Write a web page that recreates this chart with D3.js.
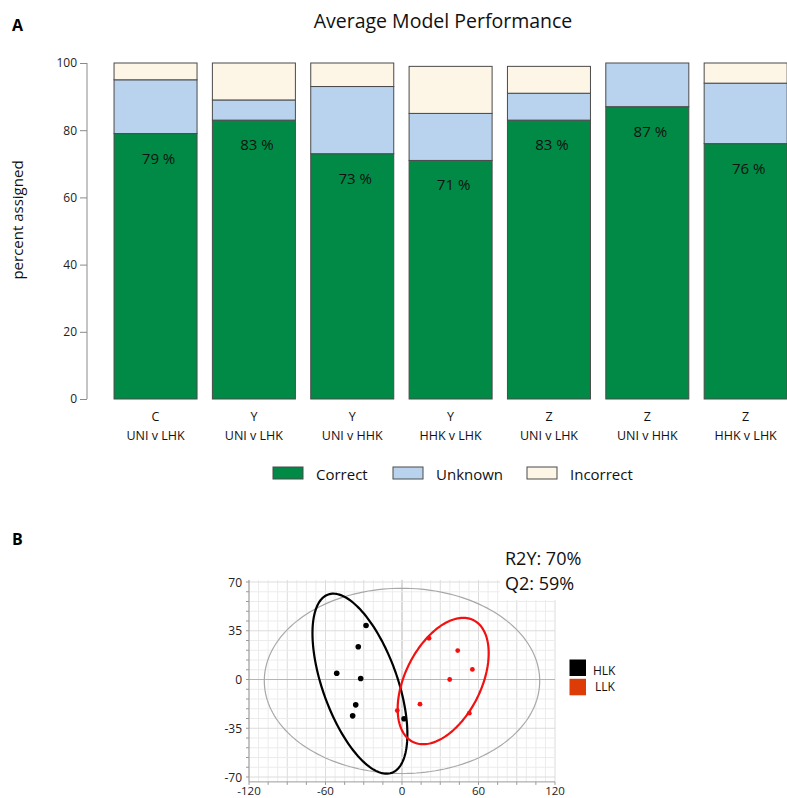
<!DOCTYPE html>
<html>
<head>
<meta charset="utf-8">
<script src="https://cdn.jsdelivr.net/npm/d3@7"></script>
<style>
  body { margin: 0; background: #fff; }
  svg { font-family: "Open Sans", sans-serif; }
</style>
</head>
<body>
<svg id="fig" width="787" height="798"></svg>
<script>
// ---- panel A data ----
const groups = ["C", "Y", "Y", "Y", "Z", "Z", "Z"];
const comparisons = ["UNI v LHK", "UNI v LHK", "UNI v HHK", "HHK v LHK", "UNI v LHK", "UNI v HHK", "HHK v LHK"];
const correct = [79, 83, 73, 71, 83, 87, 76];
const unknown = [16, 6, 20, 14, 8, 13, 18];
const incorrect = [5, 11, 7, 14, 8, 0, 6];
const yTicksA = [0, 20, 40, 60, 80, 100];
const legendNames = ["Correct", "Unknown", "Incorrect"];

// ---- panel B data ----
const hlkX = [-28.2, -34.3, -51.2, -32.4, -36.3, -38.7, 1.6];
const hlkY = [38.8, 23.5, 4.5, 0.7, -18.2, -26.1, -28.2];
const llkX = [21.2, 43.7, 55.2, 37.4, 14.1, -3.7, 52.8];
const llkY = [29.6, 20.8, 7.2, 0, -17.7, -22.3, -24.2];
// ellipses: center x, center y, semi-axis a, semi-axis b, angle (deg)
const hotelling = [0, -1, 108, 66.5, 0];
const hlkEllipse = [-33, -3, 68.7, 29, 112];
const llkEllipse = [32.3, -1.1, 49.8, 29.2, 59.4];
const xTicksB = [-120, -60, 0, 60, 120];
const yTicksB = [-70, -35, 0, 35, 70];
const stats = ["R2Y: 70%", "Q2: 59%"];
const groupNames = ["HLK", "LLK"];

const svg = d3.select("#fig");
const colors = ["#008a45", "#b9d3ee", "#fdf5e5"];

// ===== Panel A =====
svg.append("text").attr("x", 12).attr("y", 31)
  .attr("font-size", 16).attr("font-weight", "bold").text("A");

svg.append("text").attr("x", 443).attr("y", 28).attr("text-anchor", "middle")
  .attr("font-size", 19.5).attr("fill", "#111").text("Average Model Performance");

const x = d3.scaleBand().domain(d3.range(groups.length))
  .range([104.2, 797]).paddingInner(0.156).paddingOuter(0.1);
const y = d3.scaleLinear().domain([0, 100]).range([399, 63]);

const yAxisA = svg.append("g").attr("transform", "translate(87,0)")
  .call(d3.axisLeft(y).tickValues(yTicksA).tickSize(7).tickPadding(3));
yAxisA.select(".domain").attr("stroke", "#8a8a8a").attr("d", "M0," + y(0) + "V" + y(100));
yAxisA.selectAll(".tick line").attr("stroke", "#8a8a8a");
yAxisA.selectAll("text").attr("font-size", 12).attr("fill", "#222")
  .attr("font-family", "Open Sans, sans-serif");

svg.append("text")
  .attr("transform", "translate(23,220) rotate(-90)")
  .attr("text-anchor", "middle").attr("font-size", 15).attr("fill", "#111")
  .text("percent assigned");

const stacks = groups.map((g, i) => {
  const segs = [correct[i], unknown[i], incorrect[i]];
  let base = 0;
  return segs.map((v, k) => { const s = { i, k, y0: base, y1: base + v }; base += v; return s; });
});

const bars = svg.append("g");
stacks.forEach(segs => {
  bars.selectAll(null).data(segs).join("rect")
    .attr("x", d => x(d.i))
    .attr("width", x.bandwidth())
    .attr("y", d => y(d.y1))
    .attr("height", d => y(d.y0) - y(d.y1))
    .attr("fill", d => colors[d.k])
    .attr("stroke", "#4a4a4a")
    .attr("stroke-width", 1);
});

svg.append("g").selectAll("text").data(correct).join("text")
  .attr("x", (d, i) => x(i) + x.bandwidth() / 2 + 3)
  .attr("y", d => y(d) + 30)
  .attr("text-anchor", "middle").attr("font-size", 15).attr("fill", "#111")
  .text(d => d + " %");

const xl = svg.append("g");
xl.selectAll(".g1").data(groups).join("text")
  .attr("x", (d, i) => x(i) + x.bandwidth() / 2).attr("y", 421)
  .attr("text-anchor", "middle").attr("font-size", 12.5).attr("fill", "#111").text(d => d);
xl.selectAll(".g2").data(comparisons).join("text")
  .attr("x", (d, i) => x(i) + x.bandwidth() / 2).attr("y", 439.5)
  .attr("text-anchor", "middle").attr("font-size", 12.5).attr("fill", "#111").text(d => d);

const legX = [273, 393, 527];
const leg = svg.append("g");
legendNames.forEach((n, k) => {
  leg.append("rect").attr("x", legX[k]).attr("y", 467).attr("width", 30).attr("height", 12)
    .attr("fill", colors[k]).attr("stroke", "#4a4a4a");
  leg.append("text").attr("x", legX[k] + 43).attr("y", 479.5)
    .attr("font-size", 15).attr("fill", "#111").text(n);
});

// ===== Panel B =====
svg.append("text").attr("x", 12).attr("y", 545)
  .attr("font-size", 16).attr("font-weight", "bold").text("B");

const xs = d3.scaleLinear().domain([-120, 120]).range([249, 555]);
const ys = d3.scaleLinear().domain([-70, 70]).range([777, 582]);
const plotTop = ys(71.5), plotBottom = ys(-73.5);

const grid = svg.append("g");
grid.selectAll(".vx").data(d3.range(-120, 120.1, 7.5)).join("line")
  .attr("x1", d => xs(d)).attr("x2", d => xs(d)).attr("y1", plotTop).attr("y2", plotBottom)
  .attr("stroke", d => d === 0 ? "#b5b5b5" : (d % 30 === 0 ? "#dcdcdc" : "#ececec"))
  .attr("stroke-width", 1);
grid.selectAll(".hy").data(d3.range(-70, 70.1, 7)).join("line")
  .attr("y1", d => ys(d)).attr("y2", d => ys(d)).attr("x1", xs(-120)).attr("x2", xs(120))
  .attr("stroke", d => d === 0 ? "#b5b5b5" : (d % 35 === 0 ? "#dcdcdc" : "#ececec"))
  .attr("stroke-width", 1);

// axes
const ax = svg.append("g").attr("stroke", "#9a9a9a");
ax.append("line").attr("x1", xs(-120)).attr("x2", xs(-120)).attr("y1", plotTop).attr("y2", plotBottom);
ax.append("line").attr("x1", xs(-120)).attr("x2", xs(120)).attr("y1", plotBottom).attr("y2", plotBottom);
ax.selectAll(".ty").data(d3.range(-70, 70.1, 7)).join("line")
  .attr("x1", xs(-120) - 3).attr("x2", xs(-120)).attr("y1", d => ys(d)).attr("y2", d => ys(d));
ax.selectAll(".tx").data(d3.range(-120, 120.1, 15)).join("line")
  .attr("y1", plotBottom).attr("y2", plotBottom + 3).attr("x1", d => xs(d)).attr("x2", d => xs(d));

svg.append("g").selectAll("text").data(yTicksB).join("text")
  .attr("x", xs(-120) - 7).attr("y", d => ys(d) + 4.5)
  .attr("text-anchor", "end").attr("font-size", 12).attr("fill", "#222").text(d => d);
svg.append("g").selectAll("text").data(xTicksB).join("text")
  .attr("x", d => xs(d)).attr("y", 795)
  .attr("text-anchor", "middle").attr("font-size", 11.5).attr("fill", "#222").text(d => d);

function ellipsePath(e) {
  const [cx, cy, a, b, ang] = e;
  const phi = ang * Math.PI / 180;
  const pts = d3.range(0, 2 * Math.PI, Math.PI / 90).map(t => {
    const dx = a * Math.cos(t) * Math.cos(phi) - b * Math.sin(t) * Math.sin(phi);
    const dy = a * Math.cos(t) * Math.sin(phi) + b * Math.sin(t) * Math.cos(phi);
    return [xs(cx + dx), ys(cy + dy)];
  });
  return d3.line().curve(d3.curveLinearClosed)(pts);
}

svg.append("path").attr("d", ellipsePath(hotelling))
  .attr("fill", "none").attr("stroke", "#a8a8a8").attr("stroke-width", 1.2);
svg.append("path").attr("d", ellipsePath(hlkEllipse))
  .attr("fill", "none").attr("stroke", "#000").attr("stroke-width", 2.2);
svg.append("path").attr("d", ellipsePath(llkEllipse))
  .attr("fill", "none").attr("stroke", "#f21010").attr("stroke-width", 2.2);

svg.append("g").selectAll("circle").data(hlkX).join("circle")
  .attr("cx", d => xs(d)).attr("cy", (d, i) => ys(hlkY[i])).attr("r", 2.8).attr("fill", "#000");
svg.append("g").selectAll("circle").data(llkX).join("circle")
  .attr("cx", d => xs(d)).attr("cy", (d, i) => ys(llkY[i])).attr("r", 2.4).attr("fill", "#f21010");

// stats box over grid corner
svg.append("rect").attr("x", 500).attr("y", 545).attr("width", 90).attr("height", 55).attr("fill", "#fff");
svg.selectAll(".stat").data(stats).join("text")
  .attr("x", 505).attr("y", (d, i) => 565 + i * 25)
  .attr("font-size", 18).attr("fill", "#111").text(d => d);

const lg = svg.append("g");
const legColors = ["#000", "#dd3c06"];
groupNames.forEach((n, k) => {
  lg.append("rect").attr("x", 569.5).attr("y", 659.5 + k * 19.3).attr("width", 16.5).attr("height", 16.5)
    .attr("fill", legColors[k]);
  lg.append("text").attr("x", 593 + k * 2).attr("y", 675 + k * 15.5)
    .attr("font-size", 12).attr("fill", "#111").text(n);
});
</script>
</body>
</html>
